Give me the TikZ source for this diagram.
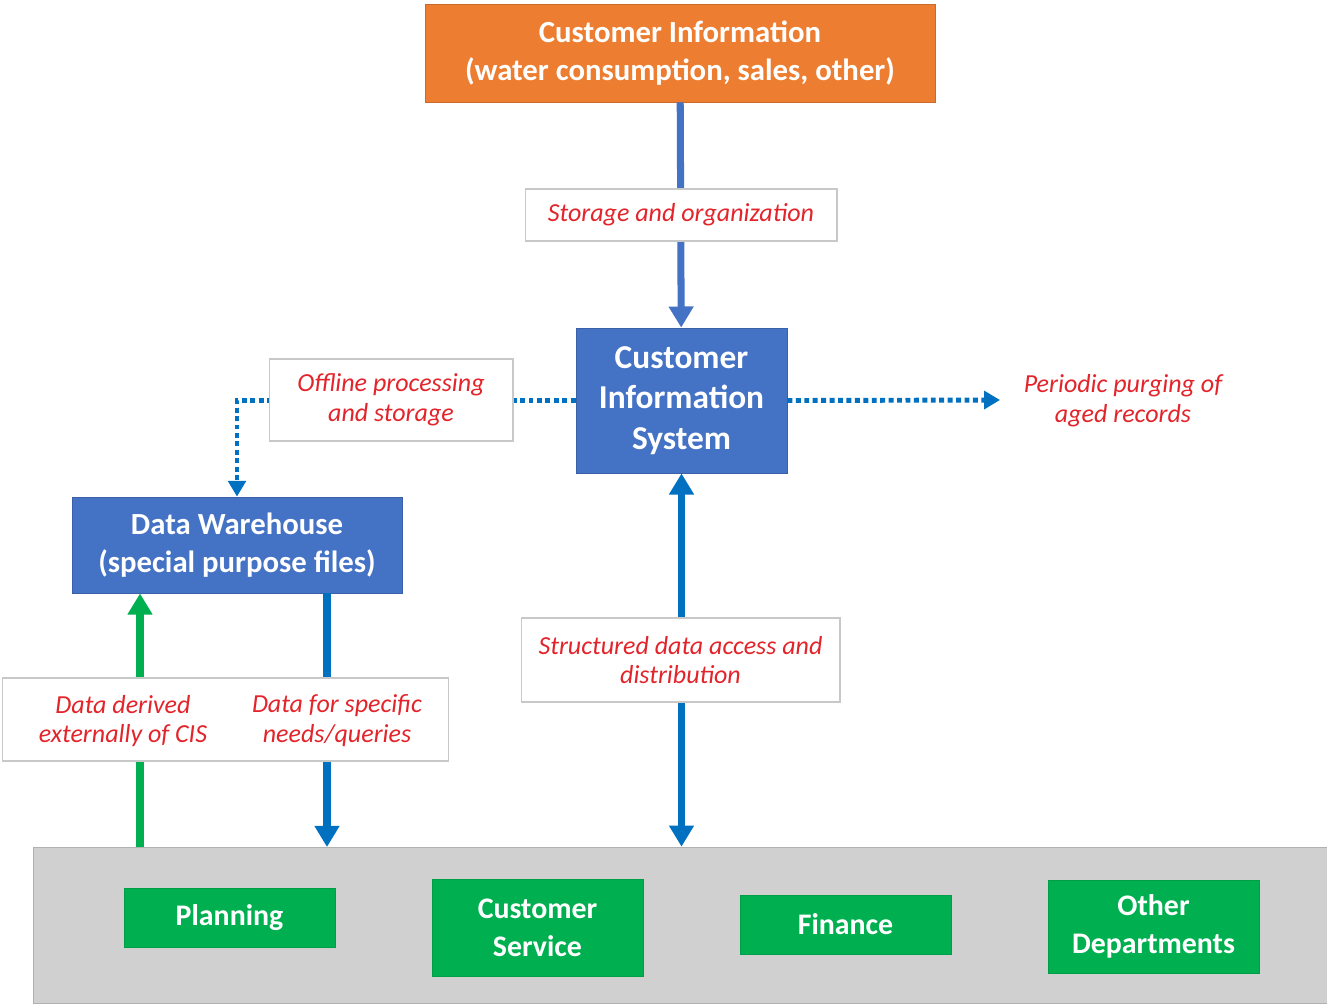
\documentclass[tikz,border=0pt]{standalone}
\usepackage{fontspec}
\setmainfont{Carlito}
\usetikzlibrary{positioning,arrows.meta}
\definecolor{orng}{HTML}{ED7D31}
\definecolor{boxblue}{HTML}{4472C4}
\definecolor{flow}{HTML}{0070C0}
\definecolor{dept}{HTML}{00B050}
\definecolor{notered}{HTML}{E3242B}
\definecolor{rim}{HTML}{C8C8C8}
\definecolor{shelf}{HTML}{D0D0D0}
\tikzset{
  sys/.style={fill=boxblue, draw=boxblue!85!black, line width=0.5pt, text=white,
              align=center, inner sep=0pt, font=\fontsize{17.5}{22}\selectfont\bfseries},
  src/.style={sys, fill=orng, draw=orng!85!black},
  unit/.style={sys, fill=dept, draw=dept!90!black, minimum width=4.22cm,
               font=\fontsize{17}{21.5}\selectfont\bfseries},
  note/.style={fill=white, draw=rim, line width=0.6pt, text=notered, align=center,
               inner sep=0pt, font=\fontsize{14.8}{17}\selectfont\itshape},
  notxt/.style={note, draw=none, fill=none},
  ar/.style={-{Triangle[length=12pt,width=13.5pt]}, line width=4pt, color=flow},
  dotar/.style={-{Triangle[length=9pt,width=10pt]}, line width=2.8pt, color=flow,
                dash pattern=on 2.8pt off 2pt},
}
\begin{document}
\begin{tikzpicture}[x=0.02cm, y=-0.02cm]
\path[use as bounding box, fill=white] (0,0) rectangle (1327,1005);

% --- DEPARTMENTS ---
\node[fill=shelf, draw=shelf!85!black, line width=0.4pt, minimum width=25.88cm,
      minimum height=3.12cm, inner sep=0pt] (panel) at (680,925) {};
\node[unit, minimum height=1.18cm] (plan) at (229.5,917.5) {Planning};
\node[unit, minimum height=1.94cm] (cserv) at (537.5,927.5) {Customer\\Service};
\node[unit, minimum height=1.18cm] (fin) at (845.5,924.5) {Finance};
\node[unit, minimum height=1.86cm] (other) at (1153.5,926.5) {Other\\Departments};

% --- SYSTEMS ---
\node[src, minimum width=10.2cm, minimum height=1.96cm] (ci) at (680,53)
  {Customer Information\\(water consumption, sales, other)};
\node[sys, minimum width=4.22cm, minimum height=2.9cm,
      font=\fontsize{19}{23}\selectfont\bfseries] (cis) at (681.5,400.5)
  {Customer\\Information\\System};
\node[sys, minimum width=6.6cm, minimum height=1.92cm] (dw) at (237,545)
  {Data Warehouse\\(special purpose files)};

\coordinate (purgetip) at (1000,400);
\coordinate (gin) at (140,847);
\coordinate (gout) at (327,847);

% --- FLOWS ---
\draw[ar, color=boxblue] (ci) -- (cis);
\draw[dotar] (cis.west) -| (dw.north);
\draw[dotar] (cis.east) -- (purgetip);
\draw[ar, {Triangle[length=12pt,width=13.5pt]}-{Triangle[length=12pt,width=13.5pt]}]
  (cis.south) -- (cis.south |- panel.north);
\draw[ar, color=dept] (gin) -- (gin |- dw.south);
\draw[ar] (gout |- dw.south) -- (gout);

% --- LABELS ---
\node[note, minimum width=6.24cm, minimum height=1.04cm] (lblstore) at (681,215)
  {Storage and organization};
\node[note, minimum width=4.88cm, minimum height=1.64cm] (lbloff) at (391,400)
  {Offline processing\\and storage};
\node[notxt] (purge) at (1123,401) {Periodic purging of\\aged records};
\node[note, minimum width=6.38cm, minimum height=1.68cm] (lblstruct) at (680.5,660)
  {Structured data access and\\distribution};
\node[note, minimum width=8.94cm, minimum height=1.66cm] (lbldw) at (225.5,719.5) {};
\node[notxt] (lblext) at (123,721) {Data derived\\externally of CIS};
\node[notxt] (lblneed) at (337,721) {Data for specific\\needs/queries};

\end{tikzpicture}
\end{document}
